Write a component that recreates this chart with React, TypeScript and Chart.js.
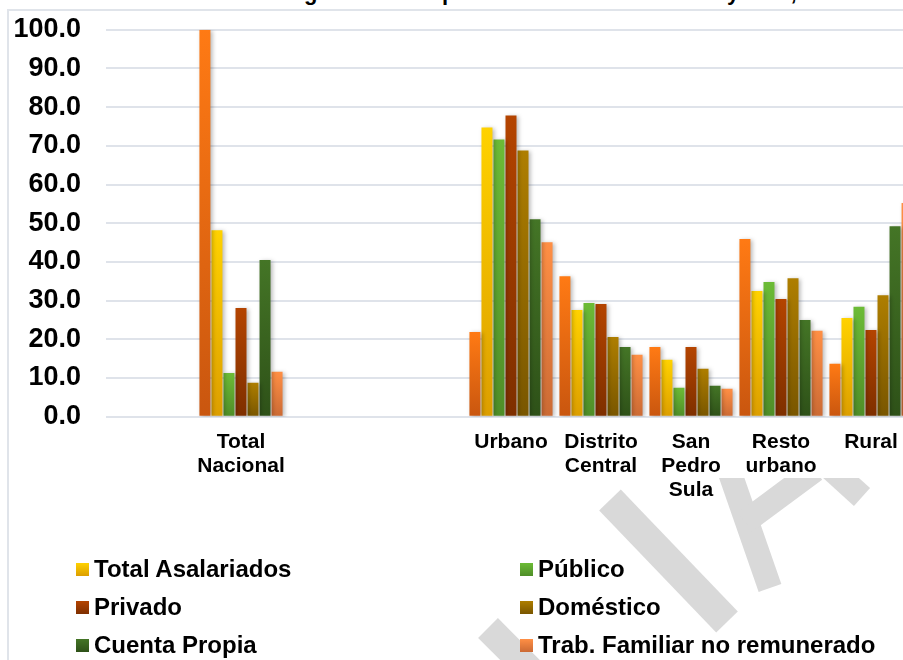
import React, { useEffect, useRef } from "react";
import { Chart, registerables } from "chart.js";

Chart.register(...registerables);

// ---------- data ----------
const categories: (string | string[])[] = [
  "",
  ["Total", "Nacional"],
  "",
  "",
  "Urbano",
  ["Distrito", "Central"],
  ["San", "Pedro", "Sula"],
  ["Resto", "urbano"],
  "Rural",
  "",
];

const seriesNames = [
  "Total Ocupados",
  "Total Asalariados",
  "Público",
  "Privado",
  "Doméstico",
  "Cuenta Propia",
  "Trab. Familiar no remunerado",
];

const totalOcupados = [null, 100.0, null, null, 21.9, 36.3, 18.0, 45.9, 13.7, null];
const totalAsalariados = [null, 48.2, null, null, 74.7, 27.6, 14.7, 32.5, 25.5, null];
const publico = [null, 11.3, null, null, 71.6, 29.4, 7.5, 34.8, 28.4, null];
const privado = [null, 28.1, null, null, 77.8, 29.1, 18.0, 30.4, 22.4, null];
const domestico = [null, 8.8, null, null, 68.8, 20.6, 12.4, 35.8, 31.4, null];
const cuentaPropia = [null, 40.5, null, null, 51.0, 18.0, 8.0, 25.0, 49.2, null];
const trabFamiliar = [null, 11.6, null, null, 45.1, 16.0, 7.2, 22.2, 55.2, null];

const seriesValues = [
  totalOcupados,
  totalAsalariados,
  publico,
  privado,
  domestico,
  cuentaPropia,
  trabFamiliar,
];

const yMin = 0;
const yMax = 100;
const yStep = 10;

const titleBefore = "Distribución de asalariados se";
const titleAfter = "gún dominio por condición de actividad y área, 2013";

// ---------- styles ----------
const topColors = ["#FF7A14", "#FFD200", "#6CBB36", "#B44400", "#AE7E00", "#447526", "#FF8F45"];
const bottomColors = ["#C9560F", "#DC9E00", "#4F8E28", "#7E2F00", "#795600", "#2E5118", "#CB6A34"];

const FONT = '"Liberation Sans", Arial, Helvetica, sans-serif';

function makeBg(i: number) {
  return (ctx: any) => {
    const chart = ctx.chart;
    const y = chart.scales && chart.scales.y;
    if (ctx.type !== "data" || !y || !chart.chartArea) return topColors[i];
    const v = ctx.raw;
    if (v == null) return topColors[i];
    const top = y.getPixelForValue(v);
    const base = y.getPixelForValue(0);
    if (!(base > top)) return topColors[i];
    const g = chart.ctx.createLinearGradient(0, top, 0, base);
    g.addColorStop(0, topColors[i]);
    g.addColorStop(1, bottomColors[i]);
    return g;
  };
}

const shadowPlugin = {
  id: "barShadow",
  beforeDatasetsDraw(chart: any) {
    const c = chart.ctx;
    c.save();
    c.shadowColor = "rgba(0,0,0,0.28)";
    c.shadowBlur = 4;
    c.shadowOffsetX = 2;
    c.shadowOffsetY = 1;
  },
  afterDatasetsDraw(chart: any) {
    chart.ctx.restore();
  },
};

const legendItems = seriesNames.slice(1).map((name, k) => ({ name, idx: k + 1 }));

export default function App() {
  const canvasRef = useRef<HTMLCanvasElement | null>(null);

  useEffect(() => {
    const canvas = canvasRef.current;
    if (!canvas) return;
    Chart.defaults.font.family = FONT;
    const chart = new Chart(canvas, {
      type: "bar",
      data: {
        labels: categories as any,
        datasets: seriesNames.map((name, i) => ({
          label: name,
          data: seriesValues[i] as any,
          backgroundColor: makeBg(i) as any,
          borderWidth: 0,
          categoryPercentage: 0.935,
          barPercentage: 0.915,
        })),
      },
      options: {
        responsive: false,
        animation: false,
        layout: { padding: { top: 29.7, left: 0, right: 4, bottom: 0 } },
        plugins: {
          legend: { display: false },
          title: { display: false },
          tooltip: { enabled: false },
        },
        scales: {
          x: {
            grid: { display: false, drawTicks: false },
            border: { display: false },
            ticks: {
              color: "#000",
              font: { family: FONT, size: 21, weight: "bold", lineHeight: 1.15 },
              padding: 13,
              maxRotation: 0,
              minRotation: 0,
              autoSkip: false,
            },
            afterFit: (s: any) => {
              s.height = 660 - 416.7;
            },
          },
          y: {
            min: yMin,
            max: yMax,
            grid: { color: "#dfe3ea", lineWidth: 2, drawTicks: false },
            border: { display: false },
            ticks: {
              stepSize: yStep,
              color: "#000",
              font: { family: FONT, size: 27, weight: "bold", lineHeight: 0.3 },
              padding: 25,
              callback: (v: any) => Number(v).toFixed(1),
            },
            afterFit: (s: any) => {
              s.width = 106;
            },
          },
        },
      },
      plugins: [shadowPlugin],
    });
    return () => chart.destroy();
  }, []);

  const legendRowY = [569, 607, 645];
  const legendColX = [76, 520];

  return (
    <div
      style={{
        position: "fixed",
        left: 0,
        top: 0,
        width: 903,
        height: 660,
        overflow: "hidden",
        background: "#fff",
        fontFamily: FONT,
      }}
    >
      {/* title (mostly above the visible area) */}
      <div
        style={{
          position: "absolute",
          right: 903 - 304,
          top: -18,
          fontSize: 22,
          lineHeight: "22px",
          fontWeight: "bold",
          whiteSpace: "nowrap",
          color: "#000",
        }}
      >
        {titleBefore}
      </div>
      <div
        style={{
          position: "absolute",
          left: 304,
          top: -18,
          fontSize: 22,
          lineHeight: "22px",
          fontWeight: "bold",
          whiteSpace: "nowrap",
          color: "#000",
        }}
      >
        {titleAfter}
      </div>

      {/* chart border */}
      <div
        style={{
          position: "absolute",
          left: 7,
          top: 9,
          width: 1200,
          height: 1000,
          borderLeft: "2px solid #e0e4ea",
          borderTop: "2px solid #e0e4ea",
        }}
      />

      {/* watermark */}
      <svg
        width={903}
        height={660}
        style={{ position: "absolute", left: 0, top: 0 }}
      >
        <defs>
          <clipPath id="wmclip">
            <rect x={0} y={478} width={903} height={200} />
          </clipPath>
        </defs>
        <g clipPath="url(#wmclip)" stroke="#d9d9d9" strokeLinecap="butt" fill="none">
          <line x1={610} y1={500} x2={727} y2={622} strokeWidth={30} />
          <line x1={488} y1={628} x2={545} y2={685} strokeWidth={28} />
          <line x1={722} y1={450} x2={770} y2={588} strokeWidth={24} />
          <line x1={745} y1={522} x2={815} y2={470} strokeWidth={24} />
          <line x1={830} y1={468} x2={862} y2={497} strokeWidth={24} />
        </g>
      </svg>

      <canvas
        ref={canvasRef}
        width={1010}
        height={660}
        style={{ position: "absolute", left: 0, top: 0, width: 1010, height: 660 }}
      />

      {/* legend */}
      {legendItems.map((it, k) => {
        const col = k % 2;
        const row = Math.floor(k / 2);
        return (
          <div
            key={it.name}
            style={{
              position: "absolute",
              left: legendColX[col],
              top: legendRowY[row] - 12,
              height: 24,
              display: "flex",
              alignItems: "center",
              whiteSpace: "nowrap",
            }}
          >
            <span
              style={{
                display: "inline-block",
                width: 13,
                height: 13,
                marginRight: 5,
                background: `linear-gradient(${topColors[it.idx]}, ${bottomColors[it.idx]})`,
              }}
            />
            <span
              style={{
                fontSize: 24,
                lineHeight: "24px",
                fontWeight: "bold",
                color: "#000",
              }}
            >
              {it.name}
            </span>
          </div>
        );
      })}
    </div>
  );
}
